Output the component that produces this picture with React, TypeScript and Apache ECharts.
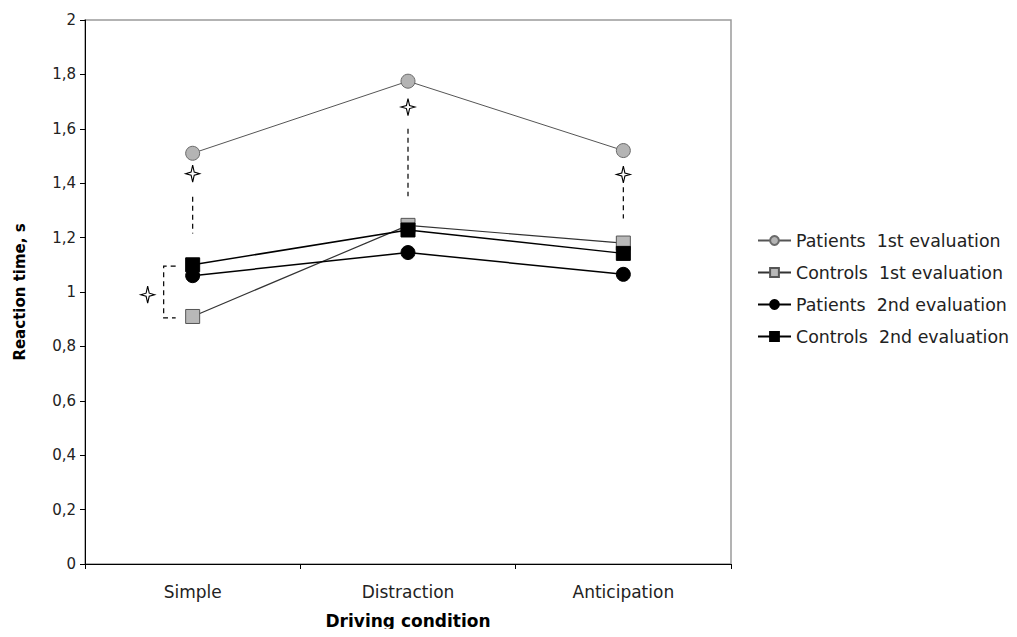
import React, { useEffect, useRef } from "react";
import * as echarts from "echarts";

const categories = ["Simple", "Distraction", "Anticipation"];
const patients1 = [1.51, 1.775, 1.52];
const controls1 = [0.91, 1.245, 1.18];
const patients2 = [1.06, 1.145, 1.065];
const controls2 = [1.1, 1.228, 1.142];
const seriesNames = [
  "Patients  1st evaluation",
  "Controls  1st evaluation",
  "Patients  2nd evaluation",
  "Controls  2nd evaluation",
];

// significance annotations (category index, values)
const starCats = [0, 1, 2];
const starValues = [1.435, 1.68, 1.432];
const dashFrom = [1.35, 1.6, 1.385];
const dashTo = [1.215, 1.352, 1.27];
const bracketCat = 0;
const bracketTop = 1.095;
const bracketBottom = 0.905;
const bracketStarValue = 0.99;

const FONT = "DejaVu Sans, Verdana, sans-serif";

export default function App() {
  const ref = useRef<HTMLDivElement>(null);
  useEffect(() => {
    if (!ref.current) return;
    const chart = echarts.init(ref.current, null, { renderer: "svg" });
    const mk = (
      name: string,
      data: number[],
      symbol: string,
      fill: string,
      border: string,
      lineColor: string,
      lineWidth: number,
      z: number
    ) => ({
      name,
      type: "line",
      data,
      symbol,
      symbolSize: 14,
      z,
      itemStyle: { color: fill, borderColor: border, borderWidth: 1 },
      lineStyle: { color: lineColor, width: lineWidth },
      emphasis: { disabled: true },
    });
    chart.setOption({
      animation: false,
      backgroundColor: "#fff",
      textStyle: { fontFamily: FONT },
      grid: {
        left: 85,
        top: 20,
        right: 286,
        bottom: 73,
        outerBoundsMode: "none",
        containLabel: false,
        show: true,
        borderColor: "#9a9a9a",
        borderWidth: 1.5,
      },
      legend: {
        orient: "vertical",
        left: 757,
        top: 232,
        padding: 0,
        itemWidth: 33,
        itemHeight: 11,
        itemGap: 15,
        textStyle: { fontSize: 17.4, color: "#222", fontFamily: FONT },
        data: seriesNames,
      },
      xAxis: {
        type: "category",
        data: categories,
        boundaryGap: true,
        axisLine: { lineStyle: { color: "#000", width: 1 } },
        axisTick: { show: true, length: 5, lineStyle: { color: "#000" } },
        axisLabel: { color: "#222", fontSize: 17, margin: 19, fontFamily: FONT },
        name: "Driving condition",
        nameLocation: "middle",
        nameGap: 48,
        nameTextStyle: { color: "#000", fontSize: 17, fontWeight: "bold", fontFamily: FONT },
      },
      yAxis: {
        type: "value",
        min: 0,
        max: 2,
        interval: 0.2,
        splitLine: { show: false },
        axisLine: { show: true, lineStyle: { color: "#000", width: 1 } },
        axisTick: { show: true, length: 5, lineStyle: { color: "#000" } },
        axisLabel: {
          color: "#222",
          fontSize: 15,
          margin: 9,
          fontFamily: FONT,
          formatter: (v: number) => String(Math.round(v * 10) / 10).replace(".", ","),
        },
        name: "Reaction time, s",
        nameLocation: "middle",
        nameGap: 58,
        nameTextStyle: { color: "#000", fontSize: 15, fontWeight: "bold", fontFamily: FONT },
      },
      series: [
        mk(seriesNames[0], patients1, "circle", "#b4b4b4", "#6a6a6a", "#555", 1, 2),
        mk(seriesNames[1], controls1, "rect", "#b8b8b8", "#555", "#333", 1.2, 3),
        mk(seriesNames[2], patients2, "circle", "#000", "#000", "#000", 1.5, 4),
        mk(seriesNames[3], controls2, "rect", "#000", "#000", "#000", 1.5, 5),
      ],
    });

    const px = (cat: number, v: number) =>
      chart.convertToPixel({ gridIndex: 0 }, [cat, v]) as number[];
    const star = (cx: number, cy: number) => {
      const pts: number[][] = [];
      for (let i = 0; i < 8; i++) {
        const ang = (Math.PI / 4) * i - Math.PI / 2;
        const r = i % 2 === 0 ? (i % 4 === 0 ? 8.5 : 7) : 2.2;
        pts.push([cx + r * Math.cos(ang), cy + r * Math.sin(ang)]);
      }
      return {
        type: "polygon",
        shape: { points: pts },
        style: { fill: "#fff", stroke: "#000", lineWidth: 1.1 },
        z: 10,
      };
    };
    const dashStyle = { stroke: "#000", lineWidth: 1.2, lineDash: [5, 4], fill: "none" };
    const graphics: any[] = [];
    starCats.forEach((c, i) => {
      const s = px(c, starValues[i]);
      graphics.push(star(s[0], s[1]));
      const a = px(c, dashFrom[i]);
      const b = px(c, dashTo[i]);
      graphics.push({
        type: "line",
        shape: { x1: a[0], y1: a[1], x2: b[0], y2: b[1] },
        style: dashStyle,
        z: 10,
      });
    });
    const t = px(bracketCat, bracketTop);
    const bt = px(bracketCat, bracketBottom);
    const bs = px(bracketCat, bracketStarValue);
    graphics.push({
      type: "polyline",
      shape: {
        points: [
          [t[0] - 17, t[1]],
          [t[0] - 29, t[1]],
          [bt[0] - 29, bt[1]],
          [bt[0] - 17, bt[1]],
        ],
      },
      style: dashStyle,
      z: 10,
    });
    graphics.push(star(bs[0] - 45, bs[1]));
    chart.setOption({ graphic: graphics });

    return () => chart.dispose();
  }, []);
  return <div ref={ref} style={{ width: 1017, height: 637, margin: -8 }} />;
}
